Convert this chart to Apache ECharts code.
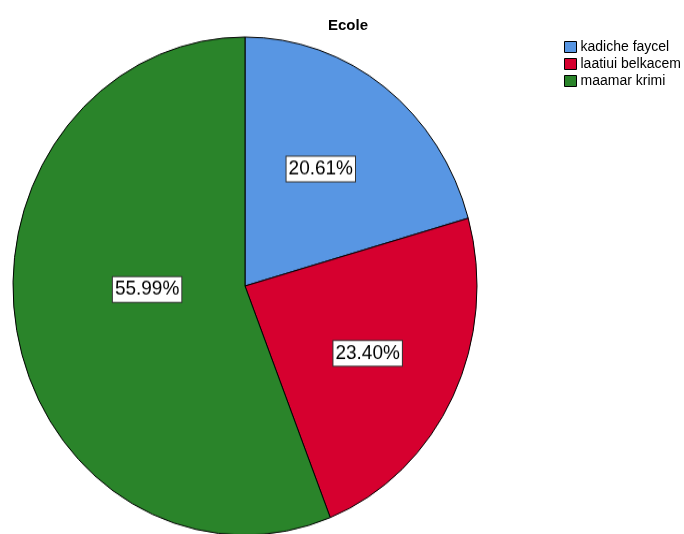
<!DOCTYPE html>
<html><head><meta charset="utf-8">
<script src="https://cdn.jsdelivr.net/npm/echarts@6/dist/echarts.min.js"></script>
<style>
html,body{margin:0;padding:0;background:#fff;}
#wrap{position:relative;width:684px;height:534px;overflow:hidden;}
#pie{position:absolute;left:0;top:0;width:684px;height:534px;transform:scaleY(1.0733);transform-origin:0 286px;}
#overlay{position:absolute;left:0;top:0;width:684px;height:534px;}
</style></head>
<body>
<div id="wrap"><div id="pie"></div><div id="overlay"></div></div>
<script>
const chartTitle = 'Ecole';
const categories = ['kadiche faycel', 'laatiui belkacem', 'maamar krimi'];
const values = [20.61, 23.40, 55.99];
const colors = ['#5896E3', '#D6002F', '#2A842A'];
const labelShift = [[4, -14], [16, 10], [19, -19]];

const data = categories.map((c, i) => ({ name: c, value: values[i] }));

const pieChart = echarts.init(document.getElementById('pie'), null, { renderer: 'canvas' });
pieChart.setOption({
  animation: false,
  color: colors,
  series: [{
    type: 'pie',
    center: [245, 286],
    radius: [0, 232],
    startAngle: 90,
    clockwise: true,
    silent: true,
    itemStyle: { borderColor: '#000', borderWidth: 1 },
    label: {
      show: true,
      position: 'inside',
      formatter: p => p.value.toFixed(2) + '%',
      fontFamily: 'Liberation Sans, Arial, sans-serif',
      fontSize: 19,
      color: '#000',
      backgroundColor: '#fff',
      borderColor: '#333',
      borderWidth: 1,
      padding: [3, 2, 1, 2]
    },
    labelLine: { show: false },
    labelLayout: function (p) {
      const s = labelShift[p.dataIndex];
      return { dx: s[0], dy: s[1] };
    },
    data: data
  }]
});

const overlayChart = echarts.init(document.getElementById('overlay'), null, { renderer: 'canvas' });
overlayChart.setOption({
  animation: false,
  color: colors,
  title: {
    text: chartTitle,
    left: 343, top: 13, textAlign: 'center',
    textStyle: { fontFamily: 'Liberation Sans, Arial, sans-serif', fontSize: 15, fontWeight: 'bold', color: '#000' }
  },
  legend: {
    orient: 'vertical',
    left: 559, top: 35,
    icon: 'rect',
    itemWidth: 12, itemHeight: 11, itemGap: 3,
    selectedMode: false,
    itemStyle: { borderColor: '#000', borderWidth: 1 },
    textStyle: { fontFamily: 'Liberation Sans, Arial, sans-serif', fontSize: 14, color: '#000', padding: [0, 0, 0, -1] },
    data: categories
  },
  series: [{
    type: 'pie', radius: [0, 0], center: [-100, -100], silent: true,
    label: { show: false }, labelLine: { show: false },
    data: data
  }]
});
</script>
</body></html>
